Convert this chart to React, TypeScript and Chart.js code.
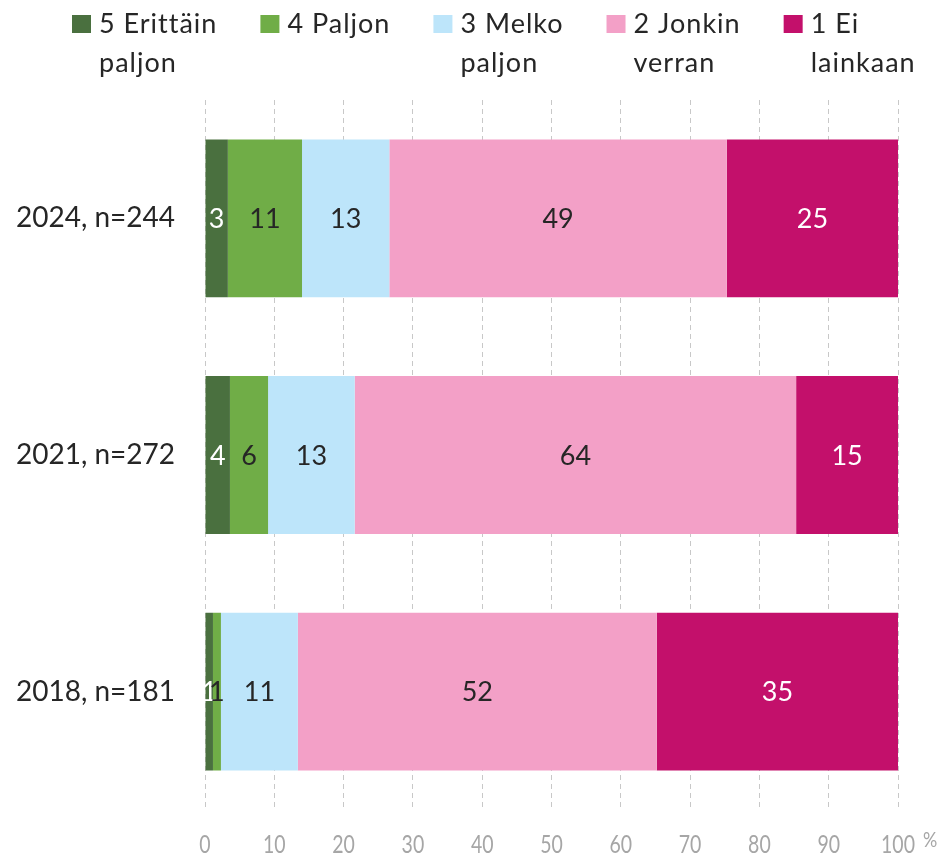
import React, { useEffect, useRef } from "react";
import { Chart, registerables } from "chart.js";

Chart.register(...registerables);

const categories = ["2024, n=244", "2021, n=272", "2018, n=181"];
const seriesNames = [
  ["5 Erittäin", "paljon"],
  ["4 Paljon"],
  ["3 Melko", "paljon"],
  ["2 Jonkin", "verran"],
  ["1 Ei", "lainkaan"],
];
const erittainPaljon = [3.3, 3.6, 1.15];
const paljon = [10.7, 5.5, 1.15];
const melkoPaljon = [12.6, 12.5, 11.1];
const jonkinVerran = [48.7, 63.7, 51.8];
const eiLainkaan = [24.7, 14.7, 34.8];
const xTicks = [0, 10, 20, 30, 40, 50, 60, 70, 80, 90, 100];

const seriesValues = [erittainPaljon, paljon, melkoPaljon, jonkinVerran, eiLainkaan];
const colors = ["#4A703F", "#70AD47", "#BDE5FA", "#F3A0C7", "#C3106B"];
const labelColors = ["#FFFFFF", "#262626", "#262626", "#262626", "#FFFFFF"];

const legendPlugin = {
  id: "customLegend",
  afterDraw(chart: any) {
    const ctx = chart.ctx;
    ctx.save();
    ctx.font = "27px Lato";
    (ctx as any).letterSpacing = "1px";
    ctx.textBaseline = "middle";
    ctx.textAlign = "left";
    let x = 72;
    chart.data.datasets.forEach((ds: any, i: number) => {
      const lines: string[] = seriesNames[i];
      ctx.fillStyle = ds.backgroundColor;
      ctx.fillRect(x, 15, 19, 18);
      ctx.fillStyle = "#262626";
      let maxW = 0;
      lines.forEach((ln, j) => {
        ctx.fillText(ln, x + 27, 24 + j * 39);
        maxW = Math.max(maxW, ctx.measureText(ln).width);
      });
      x += 27 + maxW + 43;
    });
    ctx.restore();
  },
};

const dataLabelPlugin = {
  id: "dataLabels",
  afterDatasetsDraw(chart: any) {
    const ctx = chart.ctx;
    ctx.save();
    ctx.font = "27px Lato";
    ctx.textAlign = "center";
    ctx.textBaseline = "middle";
    chart.data.datasets.forEach((ds: any, i: number) => {
      const meta = chart.getDatasetMeta(i);
      meta.data.forEach((el: any, j: number) => {
        const v = ds.data[j];
        const cx = (el.x + el.base) / 2;
        ctx.fillStyle = labelColors[i];
        ctx.fillText(String(Math.round(v)), cx, el.y + 1);
      });
    });
    ctx.restore();
  },
};

const axisLabelPlugin = {
  id: "axisLabels",
  afterDraw(chart: any) {
    const ctx = chart.ctx;
    const xs = chart.scales.x;
    ctx.save();
    ctx.fillStyle = "#A6A6A6";
    ctx.textBaseline = "middle";
    ctx.font = "25px Lato";
    ctx.textAlign = "center";
    xs.ticks.forEach((t: any) => {
      const px = xs.getPixelForValue(t.value);
      ctx.save();
      ctx.translate(px, 845);
      ctx.scale(0.78, 1);
      ctx.fillText(String(t.value), 0, 0);
      ctx.restore();
    });
    ctx.font = "21px Lato";
    ctx.textAlign = "left";
    ctx.save();
    ctx.translate(xs.getPixelForValue(100) + 25, 840);
    ctx.scale(0.85, 1);
    ctx.fillText("%", 0, 0);
    ctx.restore();
    ctx.restore();
  },
};

export default function App() {
  const ref = useRef<HTMLCanvasElement>(null);
  useEffect(() => {
    if (!ref.current) return;
    const chart = new Chart(ref.current, {
      type: "bar",
      data: {
        labels: categories,
        datasets: seriesValues.map((vals, i) => ({
          label: seriesNames[i].join(" "),
          data: vals,
          backgroundColor: colors[i],
          borderWidth: 0,
          barPercentage: 0.667,
          categoryPercentage: 1,
        })),
      },
      options: {
        indexAxis: "y",
        responsive: false,
        animation: false,
        layout: { padding: { top: 100, right: 51, left: 0, bottom: 0 } },
        plugins: { legend: { display: false }, tooltip: { enabled: false } },
        scales: {
          x: {
            stacked: true,
            min: 0,
            max: 100,
            afterBuildTicks(scale: any) {
              scale.ticks = xTicks.map((v) => ({ value: v }));
            },
            afterFit(scale: any) {
              scale.height = 47;
            },
            ticks: { display: false },
            grid: { color: "#C8C8C8", lineWidth: 1, drawTicks: false },
            border: { display: false, dash: [5, 4] },
          },
          y: {
            stacked: true,
            afterFit(scale: any) {
              scale.width = 205;
            },
            ticks: {
              color: "#262626",
              padding: 30,
              font: { family: "Lato", size: 28 },
            },
            grid: { display: false, drawTicks: false },
            border: { display: false },
          },
        },
      },
      plugins: [legendPlugin, dataLabelPlugin, axisLabelPlugin],
    } as any);
    return () => chart.destroy();
  }, []);
  return (
    <canvas
      ref={ref}
      width={949}
      height={857}
      style={{ position: "absolute", left: 0, top: 0, width: 949, height: 857 }}
    />
  );
}
